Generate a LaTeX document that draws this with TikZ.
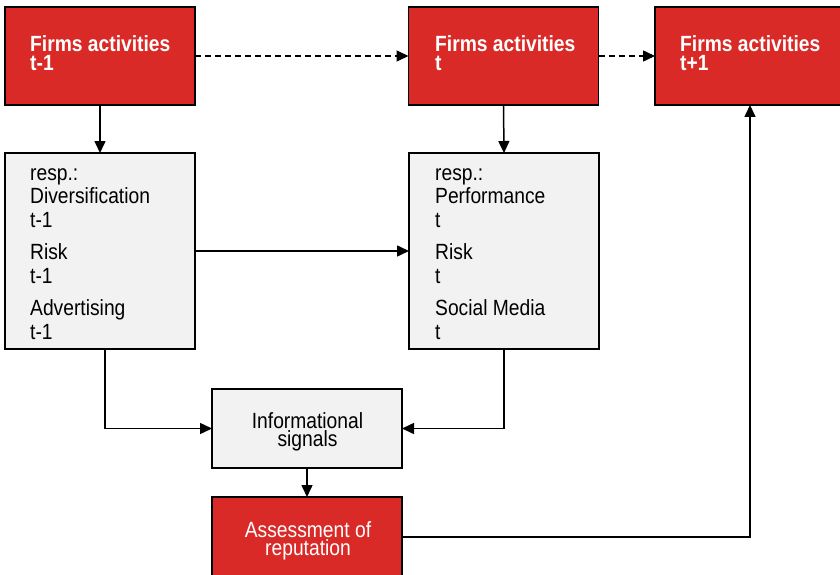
\documentclass[tikz,border=0pt]{standalone}
\usepackage{fontspec}
\setmainfont{Liberation Sans}[FakeStretch=0.875]
\usetikzlibrary{arrows.meta}
\definecolor{boxred}{RGB}{217,42,39}
\definecolor{boxgrey}{RGB}{242,242,242}
\begin{document}
\begin{tikzpicture}[x=1pt,y=-1pt,
  box/.style={draw=black, line width=1.5pt, rectangle, minimum width=190pt, inner sep=0pt, outer sep=0pt},
  redbox/.style={box, fill=boxred, minimum height=98pt},
  greybox/.style={box, fill=boxgrey, minimum height=196pt},
  infobox/.style={box, fill=boxgrey, minimum height=79pt},
  assbox/.style={box, fill=boxred, minimum height=80pt},
  redtext/.style={inner sep=0pt, anchor=base west, text=white, align=left, font=\fontsize{22}{19}\selectfont\bfseries},
  greytext/.style={inner sep=0pt, anchor=base west, text=black, align=left, font=\fontsize{22}{23.5}\selectfont},
  infotext/.style={inner sep=0pt, anchor=base, text=black, align=center, font=\fontsize{22}{18}\selectfont},
  asstext/.style={inner sep=0pt, anchor=base, text=white, align=center, font=\fontsize{22}{17.5}\selectfont},
  conn/.style={line width=1.5pt, -{Triangle[length=12pt,width=11pt]}},
  dconn/.style={conn, dash pattern=on 6pt off 4pt}
]
\useasboundingbox (0,0) rectangle (840,575);
\fill[white] (0,0) rectangle (840,575);
\clip (0,0) rectangle (840,575);

\node[redbox] (r1) at (100,56) {};
\node[redbox] (r2) at (503.5,56) {};
\node[redbox] (r3) at (750,56) {};
\node[redtext] (r1t) at (30,71) {Firms activities\\t-1};
\node[redtext] (r2t) at (435,71) {Firms activities\\t};
\node[redtext] (r3t) at (680,71) {Firms activities\\t+1};

\node[greybox] (g1) at (100,251) {};
\node[greybox] (g2) at (504,251) {};
\node[greytext] (g1t) at (30,339) {resp.:\\Diversification\\t-1\\[9pt]Risk\\t-1\\[9pt]Advertising\\t-1};
\node[greytext] (g2t) at (435,339) {resp.:\\Performance\\t\\[9pt]Risk\\t\\[9pt]Social Media\\t};

\node[infobox] (info) at (307,428.5) {};
\node[infotext] (infot) at (307.5,446) {Informational\\signals};
\node[assbox] (ass) at (307,537) {};
\node[asstext] (asst) at (308,555) {Assessment of\\reputation};

\draw[dconn] (r1.east) -- (r2.west);
\draw[dconn] (r2.east) -- (r3.west);
\draw[conn] (r1.south) -- (g1.north);
\draw[conn] (r2.south) -- (g2.north);
\draw[conn] (g1.east) -- (g2.west);
\draw[conn] ([xshift=5pt]g1.south) |- (info.west);
\draw[conn] (g2.south) |- (info.east);
\draw[conn] (info.south) -- (ass.north);
\draw[conn] (ass.east) -| (r3.south);
\end{tikzpicture}
\end{document}
